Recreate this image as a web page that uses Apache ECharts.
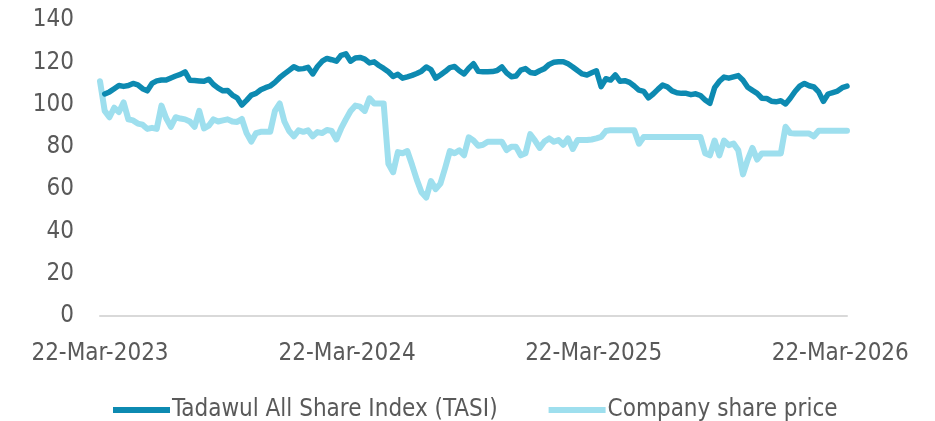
<!DOCTYPE html>
<html>
<head>
<meta charset="utf-8">
<script src="https://cdn.jsdelivr.net/npm/echarts@6/dist/echarts.min.js"></script>
<style>
  html, body { margin: 0; padding: 0; background: #ffffff; }
  #chart { width: 935px; height: 421px; }
</style>
</head>
<body>
<div id="chart"></div>
<script>
// Series names as shown in the legend
const seriesNames = ['Tadawul All Share Index (TASI)', 'Company share price'];

// Weekly observations, first one on 22-Mar-2023
const firstObservation = [2023, 2, 22];
const daysBetweenObservations = 7;

// Axis extent and labelled dates
const axisStart = [2023, 2, 22];
const axisEnd = [2026, 3, 1];
const labelDates = [[2023, 2, 22], [2024, 2, 22], [2025, 2, 22], [2026, 2, 22]];
const monthNames = ['Jan', 'Feb', 'Mar', 'Apr', 'May', 'Jun', 'Jul', 'Aug', 'Sep', 'Oct', 'Nov', 'Dec'];

// Value axis
const yMin = 0;
const yMax = 140;
const yStep = 20;

// Rebased index level (weekly)
const tasi = [
  null,
  105, 106, 107.5, 109, 108.6, 109, 110, 109.3, 107.5, 106.5,
  110, 111.2, 111.6, 111.6, 112.6, 113.5, 114.3, 115.5, 111.5, 111.4,
  111.2, 111, 112, 109.5, 107.8, 106.5, 106.6, 104.5, 103.2, 99.8,
  102, 104.5, 105.3, 107, 108, 108.8, 110.5, 112.7, 114.5, 116.2,
  117.9, 116.8, 117, 117.6, 114.5, 118, 120.5, 121.8, 121.2, 120.5,
  123.3, 124, 120.5, 122, 122.3, 121.5, 119.7, 120.2, 118.5, 117.1,
  115.5, 113.3, 114.3, 112.5, 113.1, 113.8, 114.7, 115.8, 117.8, 116.5,
  112.5, 114, 115.6, 117.5, 118, 116, 114.5, 117.2, 119.3, 115.7,
  115.5, 115.5, 115.6, 116.1, 117.8, 115, 113.2, 113.5, 116.3, 117,
  115.2, 114.8, 116, 117, 119, 120, 120.3, 120.3, 119.3, 117.8,
  116.1, 114.5, 114, 115, 116, 108.5, 112.2, 111.6, 114, 111,
  111.3, 110.5, 108.8, 106.8, 106.2, 103.2, 105, 107.2, 109.2, 108.4,
  106.5, 105.6, 105.3, 105.3, 104.7, 105.1, 104.3, 102.2, 100.6, 108,
  111, 113, 112.5, 113.1, 113.7, 111.5, 108.2, 106.7, 105.3, 103,
  102.9, 101.6, 101.3, 101.8, 100.3, 103, 106.2, 108.7, 110, 108.9,
  108.3, 106, 101.5, 105, 105.7, 106.4, 108, 108.7
];

// Rebased company share price (weekly)
const company = [
  111, 97, 94, 98.5, 96.5, 101, 93, 92.5, 91, 90.5,
  88.5, 89, 88.5, 99.5, 93.5, 89.5, 94, 93.4, 93, 92,
  89.5, 97, 88.7, 90, 93, 92, 92.5, 93, 92, 91.8,
  93.2, 86.5, 82.5, 86.5, 87.1, 87.1, 87.1, 97, 100.5, 92,
  87.5, 85, 87.8, 87.1, 87.8, 85, 87, 86.5, 88, 87.5,
  83.5, 88.7, 93, 97, 99.5, 99, 97, 103, 100.5, 100.5,
  100.5, 72, 68, 77.5, 77, 78, 71.5, 64.5, 58.5, 56,
  63.8, 60, 62.6, 70, 78, 77, 78.4, 76, 84.5, 83,
  80.5, 81, 82.4, 82.4, 82.4, 82.4, 78.5, 80, 80, 76,
  77, 86, 83, 79.5, 82.5, 84, 82.4, 83.2, 81, 84,
  79, 83.2, 83.2, 83.2, 83.5, 84, 84.7, 87.5, 87.9, 87.9,
  87.9, 87.9, 87.9, 87.9, 81.5, 84.7, 84.7, 84.7, 84.7, 84.7,
  84.7, 84.7, 84.7, 84.7, 84.7, 84.7, 84.7, 84.7, 77, 76,
  83, 76, 83, 80.8, 81.6, 78.4, 67, 74, 79.5, 74,
  76.9, 76.9, 76.9, 76.9, 76.9, 89.5, 86.5, 86.3, 86.3, 86.3,
  86.3, 85, 87.6, 87.6, 87.6, 87.6, 87.6, 87.6, 87.6
];

const colors = ['#0d8ab1', '#9edfee'];
const textColor = '#595959';
const fontFamily = "'Liberation Sans Narrow', 'Arial Narrow', 'DejaVu Sans Condensed', 'Liberation Sans', sans-serif";

const DAY_MS = 86400000;
const originTime = new Date(axisStart[0], axisStart[1], axisStart[2]).getTime();

// Day offset from the axis origin for a calendar date
function dayOffset(parts) {
  const t = new Date(parts[0], parts[1], parts[2]).getTime();
  return Math.round((t - originTime) / DAY_MS);
}

function observationDay(i) {
  const obs = [firstObservation[0], firstObservation[1], firstObservation[2] + i * daysBetweenObservations];
  return dayOffset(obs);
}

function pairs(values) {
  return values.map((v, i) => [observationDay(i), v]);
}

function formatDay(offset) {
  const d = new Date(axisStart[0], axisStart[1], axisStart[2] + Math.round(offset));
  const dd = String(d.getDate()).padStart(2, '0');
  return dd + '-' + monthNames[d.getMonth()] + '-' + d.getFullYear();
}

const chart = echarts.init(document.getElementById('chart'), null, { renderer: 'canvas' });

chart.setOption({
  animation: false,
  backgroundColor: '#ffffff',
  grid: { left: 100, right: 88, top: 20, bottom: 105, containLabel: false },
  legend: {
    data: seriesNames,
    orient: 'horizontal',
    left: 113,
    top: 398,
    width: 800,
    padding: 0,
    icon: 'rect',
    itemWidth: 57,
    itemHeight: 6,
    itemGap: 51,
    textStyle: { color: textColor, fontSize: 24, fontFamily: fontFamily, padding: [0, 0, 0, -3] }
  },
  xAxis: {
    type: 'value',
    min: 0,
    max: dayOffset(axisEnd),
    axisLine: { show: true, lineStyle: { color: '#d9d9d9', width: 2 } },
    axisTick: { show: false },
    splitLine: { show: false },
    axisLabel: {
      customValues: labelDates.map(dayOffset),
      formatter: formatDay,
      color: textColor,
      fontSize: 24,
      fontFamily: fontFamily,
      margin: 26,
      hideOverlap: false,
      showMinLabel: true,
      showMaxLabel: true
    }
  },
  yAxis: {
    type: 'value',
    min: yMin,
    max: yMax,
    interval: yStep,
    axisLine: { show: false },
    axisTick: { show: false },
    splitLine: { show: false },
    axisLabel: { color: textColor, fontSize: 24, fontFamily: fontFamily, margin: 26, padding: [4, 0, 0, 0] }
  },
  series: [
    {
      name: seriesNames[0],
      type: 'line',
      data: pairs(tasi),
      showSymbol: false,
      symbol: 'none',
      z: 3,
      color: colors[0],
      lineStyle: { color: colors[0], width: 5.5, cap: 'round', join: 'round' }
    },
    {
      name: seriesNames[1],
      type: 'line',
      data: pairs(company),
      showSymbol: false,
      symbol: 'none',
      z: 2,
      color: colors[1],
      lineStyle: { color: colors[1], width: 6, cap: 'round', join: 'round' }
    }
  ]
});
</script>
</body>
</html>
